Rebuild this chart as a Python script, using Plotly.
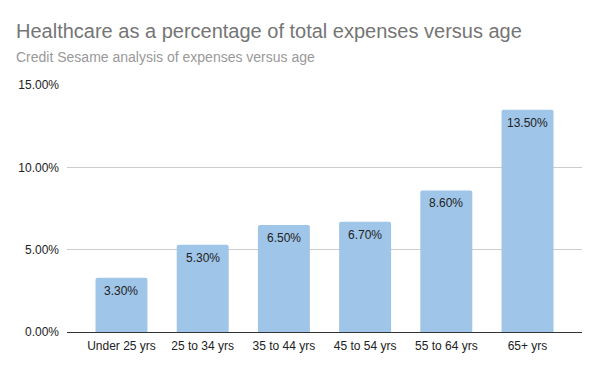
import plotly.graph_objects as go

categories = ["Under 25 yrs", "25 to 34 yrs", "35 to 44 yrs", "45 to 54 yrs", "55 to 64 yrs", "65+ yrs"]
values = [0.033, 0.053, 0.065, 0.067, 0.086, 0.135]
tick_vals = [0, 0.05, 0.10, 0.15]

title_text = "Healthcare as a percentage of total expenses versus age"
subtitle_text = "Credit Sesame analysis of expenses versus age"

FONT = "Liberation Sans, Arial, sans-serif"

xs = list(range(len(categories)))

fig = go.Figure(go.Bar(
    x=xs,
    y=values,
    marker=dict(color="#9fc5e8", line=dict(width=0)),
    width=0.64,
    hoverinfo="skip",
))

label_annotations = [
    dict(x=x, y=v, xref="x", yref="y", text=f"{v * 100:.2f}%",
         yanchor="top", xanchor="center", yshift=-4, showarrow=False,
         font=dict(family=FONT, size=12, color="#222222"))
    for x, v in zip(xs, values)
]

fig.update_layout(
    width=600, height=371,
    margin=dict(l=67, r=18, t=85, b=39),
    paper_bgcolor="white", plot_bgcolor="white",
    showlegend=False,
    barcornerradius=2,
    font=dict(family=FONT, size=12, color="#222222"),
    annotations=[
        dict(text=title_text, xref="paper", yref="paper", x=-0.1029, y=1.2187,
             xanchor="left", yanchor="middle", showarrow=False,
             font=dict(family=FONT, size=20, color="#757575")),
        dict(text=subtitle_text, xref="paper", yref="paper", x=-0.1029, y=1.113,
             xanchor="left", yanchor="middle", showarrow=False,
             font=dict(family=FONT, size=14, color="#999999")),
    ] + label_annotations,
)

fig.update_xaxes(
    tickvals=xs,
    ticktext=categories,
    range=[-0.671, 5.671],
    showgrid=False, zeroline=False,
    showline=True, linecolor="#333333", linewidth=1,
    ticks="", ticklabelstandoff=3,
    tickfont=dict(family=FONT, size=12, color="#222222"),
)
fig.update_yaxes(
    range=[0, 0.15],
    tickvals=tick_vals,
    tickformat=".2%",
    showgrid=True, gridcolor="#cccccc", gridwidth=1,
    zeroline=False, showline=False,
    ticks="", ticklabelstandoff=7,
    tickfont=dict(family=FONT, size=12, color="#222222"),
)

fig.write_html("out.html", config={"displayModeBar": False},
               post_script="document.body.style.margin='0';document.body.style.padding='0';")
